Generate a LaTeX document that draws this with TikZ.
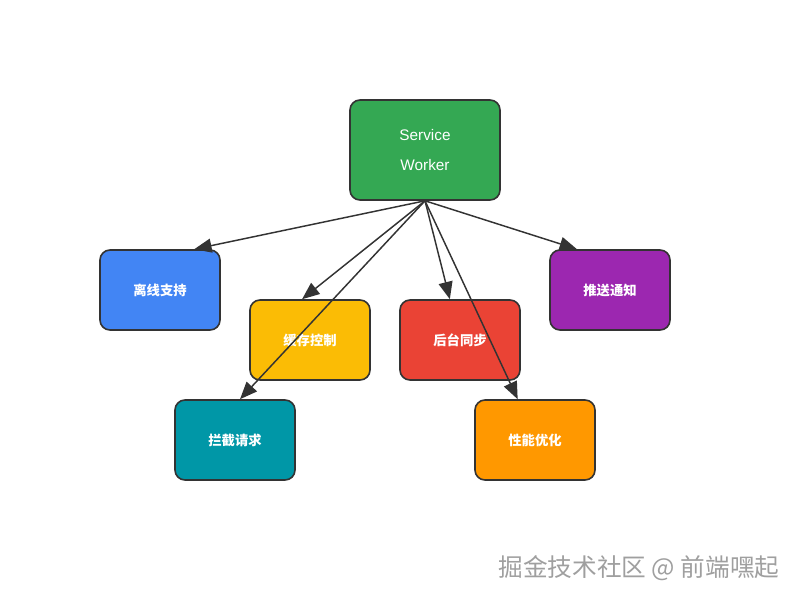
\documentclass[tikz,border=0pt]{standalone}
\usepackage{fontspec}
\setmainfont{Liberation Sans}
\newfontfamily\cjk{Noto Sans CJK SC}
\usetikzlibrary{arrows.meta}

\definecolor{swgreen}{HTML}{34A853}
\definecolor{offblue}{HTML}{4285F4}
\definecolor{cacheyellow}{HTML}{FBBC05}
\definecolor{syncred}{HTML}{EA4335}
\definecolor{pushpurple}{HTML}{9C27B0}
\definecolor{interteal}{HTML}{0097A7}
\definecolor{perforange}{HTML}{FF9800}
\definecolor{edgegray}{HTML}{333333}

\begin{document}
\begin{tikzpicture}[x=0.75pt,y=-0.75pt,
	box/.style={draw=edgegray, line width=1.2pt, rounded corners=7.5pt,
		minimum width=90pt, minimum height=60pt, text=white,
		font=\cjk\bfseries\fontsize{10}{12}\selectfont},
	link/.style={draw=edgegray, line width=1.1pt,
		-{Triangle[length=13pt,width=10.5pt]}}]
	\useasboundingbox (0,0) rectangle (800,600);
		\node[box, fill=swgreen, minimum width=112.5pt, minimum height=75pt,
			font=\fontsize{11.5}{22}\selectfont, align=center] (sw) at (425,150) {Service\\Worker};
		\node[box, fill=offblue] (offline) at (160,290) {离线支持};
		\node[box, fill=cacheyellow] (cache) at (310,340) {缓存控制};
		\node[box, fill=syncred] (sync) at (460,340) {后台同步};
		\node[box, fill=pushpurple] (push) at (610,290) {推送通知};
		\node[box, fill=interteal] (intercept) at (235,440) {拦截请求};
		\node[box, fill=perforange] (perf) at (535,440) {性能优化};
	% edges from the worker
		\draw[link] (sw.south) -- (offline.50);
		\draw[link] (sw.south) -- (cache.101);
		\draw[link] (sw.south) -- (intercept.83);
		\draw[link] (sw.south) -- (sync.104);
		\draw[link] (sw.south) -- (push.129);
		\draw[link] (sw.south) -- (perf.113);
	% watermark
		\node[text=gray!75, font=\cjk\fontsize{18.5}{22}\selectfont] (mark) at (639,568) {掘金技术社区 @ 前端嘿起};
\end{tikzpicture}
\end{document}
